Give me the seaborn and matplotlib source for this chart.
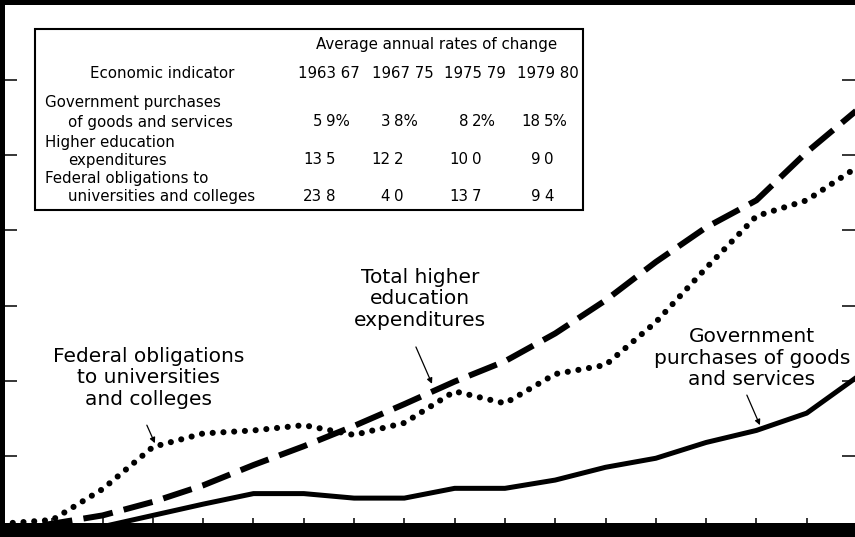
import matplotlib
matplotlib.use("Agg")
import matplotlib.pyplot as plt
from matplotlib.patches import Rectangle
from matplotlib.lines import Line2D
import seaborn as sns
import pandas as pd

# ---------------- data ----------------
years = list(range(1963, 1981))
gov_purchases = [0.00, 0.03, 0.06, 0.21, 0.36, 0.50, 0.50, 0.44, 0.44, 0.57,
                 0.57, 0.68, 0.85, 0.97, 1.18, 1.34, 1.57, 2.05]
higher_ed = [0.00, 0.10, 0.21, 0.39, 0.61, 0.88, 1.13, 1.40, 1.69, 1.99,
             2.26, 2.63, 3.07, 3.58, 4.04, 4.40, 5.04, 5.60]
federal_oblig = [0.10, 0.15, 0.56, 1.12, 1.30, 1.34, 1.41, 1.28, 1.44, 1.86,
                 1.70, 2.09, 2.21, 2.78, 3.50, 4.19, 4.40, 4.84]

table_title = "Average annual rates of change"
table_header = "Economic indicator"
periods = ["1963 67", "1967 75", "1975 79", "1979 80"]
row_labels = [["Government purchases", "of goods and services"],
              ["Higher education", "expenditures"],
              ["Federal obligations to", "universities and colleges"]]
row_gov = ["5 9%", "3 8%", "8 2%", "18 5%"]
row_hed = ["13 5", "12 2", "10 0", "9 0"]
row_fed = ["23 8", "4 0", "13 7", "9 4"]

df = pd.DataFrame({"year": years, "gov": gov_purchases,
                   "hed": higher_ed, "fed": federal_oblig})

# ---------------- figure ----------------
sns.set_style("white")
plt.rcParams["font.family"] = ["DejaVu Sans"]
plt.rcParams["text.color"] = "black"

W, H = 855, 537
fig = plt.figure(figsize=(W / 100, H / 100), dpi=100)
fig.patch.set_facecolor("white")

def fx(x):
    return x / W

def fy(y):
    return 1 - y / H

y0, y7 = 531.2, 4.8
ax = fig.add_axes([fx(2), fy(y0), fx(857) - fx(2), fy(y7) - fy(y0)])
ax.set_xlim(1963, 1980)
ax.set_ylim(0, 7)
ax.set_facecolor("white")
for s in ax.spines.values():
    s.set_visible(False)

sns.lineplot(data=df, x="year", y="gov", ax=ax, color="black", linewidth=3.6)
ax.lines[-1].set_solid_capstyle("round")
ax.lines[-1].set_solid_joinstyle("round")

sns.lineplot(data=df, x="year", y="hed", ax=ax, color="black", linewidth=4.3)
ln = ax.lines[-1]
ln.set_linestyle((0, (5.0, 1.9)))
ln.set_dash_capstyle("butt")

sns.lineplot(data=df, x="year", y="fed", ax=ax, color="black", linewidth=4.4)
ln = ax.lines[-1]
ln.set_linestyle((0, (0.01, 1.75)))
ln.set_dash_capstyle("round")

ax.set_xlabel("")
ax.set_ylabel("")
ax.set_xticks(years[1:-1])
ax.set_yticks(range(1, 7))
ax.tick_params(axis="x", direction="in", length=9.5, width=1.1, bottom=True,
               labelbottom=False, color="black")
ax.tick_params(axis="y", direction="in", length=10.5, width=1.1, left=True,
               right=True, labelleft=False, labelright=False, color="black")

# annotations
afs = 14.5
arrow = dict(arrowstyle="-|>", color="black", lw=0.9, mutation_scale=8,
             shrinkA=0, shrinkB=0)
ax.text(1965.92, 2.04, "Federal obligations\nto universities\nand colleges",
        ha="center", va="center", fontsize=afs, linespacing=1.15, color="black")
ax.annotate("", xy=(1966.04, 1.17), xytext=(1965.88, 1.41), arrowprops=arrow)

ax.text(1971.31, 3.09, "Total higher\neducation\nexpenditures",
        ha="center", va="center", fontsize=afs, linespacing=1.15, color="black")
ax.annotate("", xy=(1971.55, 1.96), xytext=(1971.23, 2.45), arrowprops=arrow)

ax.text(1977.91, 2.30, "Government\npurchases of goods\nand services",
        ha="center", va="center", fontsize=afs, linespacing=1.15, color="black")
ax.annotate("", xy=(1978.07, 1.41), xytext=(1977.81, 1.81), arrowprops=arrow)

# ---------------- table ----------------
def hline(x1, x2, y, lw=1.2):
    fig.add_artist(Line2D([fx(x1), fx(x2)], [fy(y), fy(y)], color="black", lw=lw))

def vline(x, y1, y2, lw=1.2):
    fig.add_artist(Line2D([fx(x), fx(x)], [fy(y1), fy(y2)], color="black", lw=lw))

tx0, tx1, ty0, ty1 = 35, 583, 29, 210
fig.add_artist(Rectangle((fx(tx0), fy(ty1)), fx(tx1) - fx(tx0), fy(ty0) - fy(ty1),
                         facecolor="white", edgecolor="black", lw=1.5, zorder=5))
cols = [290, 368, 438, 512, 583]
hline(290, 583, 60)
hline(35, 583, 88, lw=1.4)
vline(290, 29, 210)
for c in cols[1:-1]:
    vline(c, 60, 210)

tfs = 10.8
def ftext(x, y, s, ha="left", fs=tfs):
    fig.text(fx(x), fy(y), s, ha=ha, va="center", fontsize=fs, zorder=6,
             color="black")

ftext((290 + 583) / 2, 44, table_title, ha="center")
ftext((35 + 290) / 2, 74, table_header, ha="center")
for i, p in enumerate(periods):
    ftext((cols[i] + cols[i + 1]) / 2, 74, p, ha="center")

label_y = [[102, 122], [143, 160], [179, 196]]
for lab, ys in zip(row_labels, label_y):
    ftext(45, ys[0], lab[0])
    ftext(68, ys[1], lab[1])

dec_x = [322, 390, 468, 540]
for row, yy in zip([row_gov, row_hed, row_fed], [122, 160, 196]):
    for s, dx in zip(row, dec_x):
        a, b = s.split(" ")
        ftext(dx, yy, a, ha="right")
        ftext(dx + 4, yy, b, ha="left")

# ---------------- scan border bands ----------------
fig.add_artist(Rectangle((0, 0), 1, fy(523), facecolor="black", edgecolor="none", zorder=7))
fig.add_artist(Rectangle((0, fy(4.5)), 1, 1 - fy(4.5), facecolor="black", edgecolor="none", zorder=7))
fig.add_artist(Rectangle((0, 0), fx(5), 1, facecolor="black", edgecolor="none", zorder=7))

fig.savefig("out.png", dpi=100, facecolor="white")
